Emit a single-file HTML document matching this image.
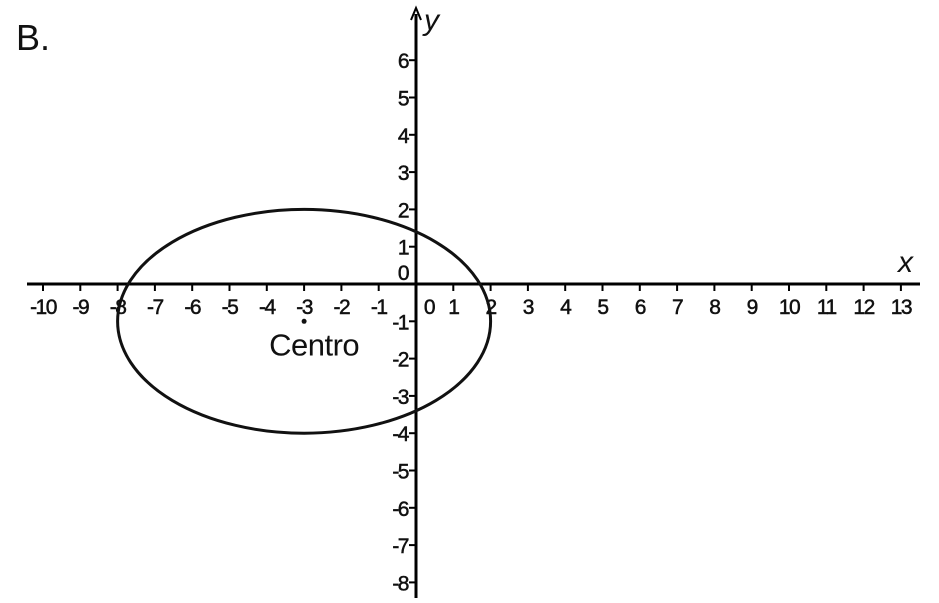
<!DOCTYPE html>
<html><head><meta charset="utf-8"><style>
html,body{margin:0;padding:0;background:#fff;width:939px;height:603px;overflow:hidden}
text{font-family:"Liberation Sans",sans-serif;fill:#111}
</style></head><body>
<svg id="chart" width="939" height="603" xmlns="http://www.w3.org/2000/svg">
<text x="16" y="50" font-size="36">B.</text>
<g id="axes"></g>
<g id="ticks"></g>
<g id="marks"></g>
</svg>
<script>
const xTicks=[-10,-9,-8,-7,-6,-5,-4,-3,-2,-1,0,1,2,3,4,5,6,7,8,9,10,11,12,13];
const yTicks=[6,5,4,3,2,1,0,-1,-2,-3,-4,-5,-6,-7,-8];
const ellipseCenter=[-3,-1];
const ellipseRadii=[5,3];
const centerLabel=["Centro"];
const NS="http://www.w3.org/2000/svg";
const X0=416,Y0=284,SX=37.3,SY=37.3;
const sx=v=>X0+v*SX, sy=v=>Y0-v*SY;
function mk(tag,attrs,parent,txt){const e=document.createElementNS(NS,tag);for(const k in attrs)e.setAttribute(k,attrs[k]);if(txt!==undefined)e.textContent=txt;parent.appendChild(e);return e;}
const axes=document.getElementById('axes'),ticks=document.getElementById('ticks'),marks=document.getElementById('marks');
let a=mk('line',{x1:27,y1:Y0,x2:920,y2:Y0,stroke:'#000','stroke-width':3},axes);


a=mk('line',{x1:X0,y1:14,x2:X0,y2:598,stroke:'#000','stroke-width':3},axes);


a=mk('path',{d:`M${X0-5} 20 L${X0} 8 L${X0+5} 20`,fill:'none',stroke:'#000','stroke-width':2},axes);


a=mk('text',{x:424,y:30,'font-size':30,'font-style':'italic','font-family':'Liberation Serif'},axes,'y');


a=mk('text',{x:898,y:272,'font-size':30,'font-style':'italic','font-family':'Liberation Serif'},axes,'x');


xTicks.forEach(v=>{
  const x=sx(v);
  if(v!==0){const t=mk('line',{x1:x,y1:Y0,x2:x,y2:Y0+7,stroke:'#000','stroke-width':2},ticks);
  
  }
  const lx=v===0?x+13:x;
  const l=mk('text',{x:lx,y:Y0+30,'font-size':21,'text-anchor':'middle','letter-spacing':'-1.5',stroke:'#111','stroke-width':0.5},ticks,String(v));
  
  
});
yTicks.forEach(v=>{
  const y=sy(v);
  if(v!==0){const t=mk('line',{x1:X0-7,y1:y,x2:X0,y2:y,stroke:'#000','stroke-width':2},ticks);
  
  }
  const l=mk('text',{x:X0-8,y:v===0?y-4:y+8,'font-size':21,'text-anchor':'end','letter-spacing':'-1.5',stroke:'#111','stroke-width':0.5},ticks,String(v));
  
  
});
const e=mk('ellipse',{cx:sx(ellipseCenter[0]),cy:sy(ellipseCenter[1]),rx:ellipseRadii[0]*SX,ry:ellipseRadii[1]*SY,fill:'none',stroke:'#111','stroke-width':3},marks);


const d=mk('circle',{cx:sx(ellipseCenter[0]),cy:sy(ellipseCenter[1]),r:2.5,fill:'#111'},marks);


const c=mk('text',{x:sx(ellipseCenter[0])-35,y:sy(ellipseCenter[1])+34,'font-size':31,'letter-spacing':'-0.5'},marks,centerLabel[0]);


</script>
</body></html>
